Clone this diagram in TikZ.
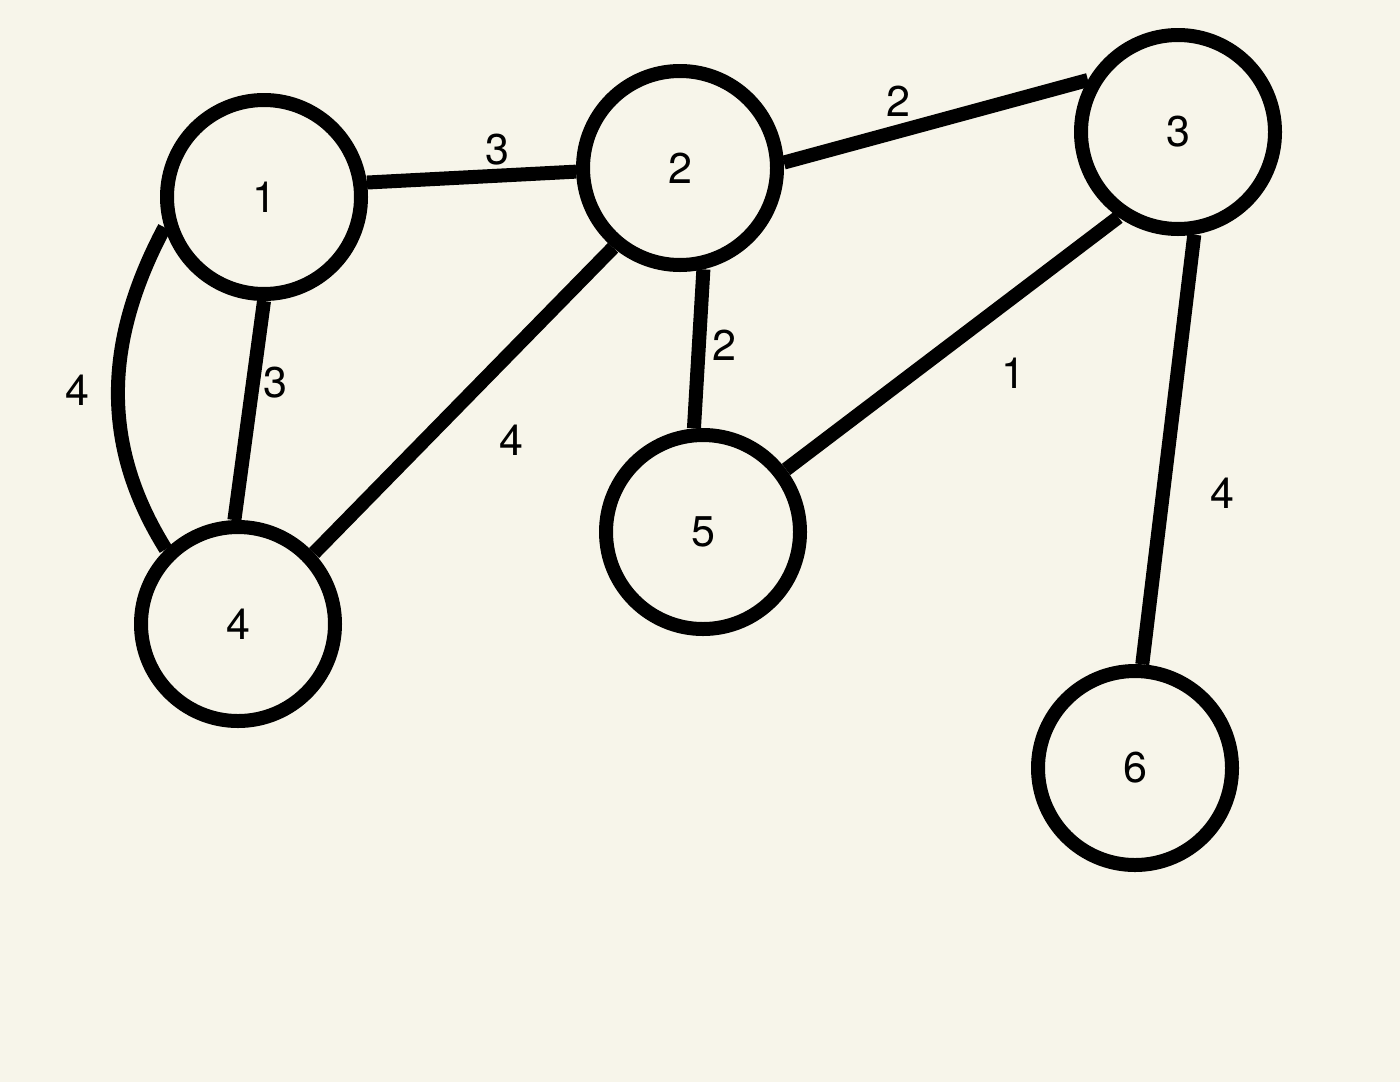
\documentclass[tikz,border=0pt]{standalone}
\usepackage{fontspec}
\setmainfont{TeX Gyre Heros}
\definecolor{bgc}{HTML}{F7F5EA}
\begin{document}
\begin{tikzpicture}[x=0.5pt,y=-0.5pt,
  vtx/.style={circle,draw=black,line width=7pt,minimum size=97pt,inner sep=0pt,font=\fontsize{21.5}{26}\selectfont},
  edge/.style={line width=7pt,draw=black},
  wlab/.style={font=\fontsize{21.5}{26}\selectfont,inner sep=0pt}]
\fill[bgc] (0,0) rectangle (1400,1082);
\useasboundingbox (0,0) rectangle (1400,1082);
\node[vtx] (n1) at (264,197) {1};
\node[vtx] (n2) at (680,168) {2};
\node[vtx] (n3) at (1178,132) {3};
\node[vtx] (n4) at (238,624) {4};
\node[vtx] (n5) at (703,532) {5};
\node[vtx] (n6) at (1135,768) {6};
\draw[edge] (n1.8) -- (n2.182);
\draw[edge] (n2.3) -- (n3.150);
\draw[edge] (n1.270) -- (n4.92);
\draw[edge] (n1.197) to[out=242,in=122] (n4.134);
\draw[edge] (n2.230) -- (n4.43);
\draw[edge] (n2.283) -- (n5.95);
\draw[edge] (n3.235) -- (n5.37);
\draw[edge] (n3.279) -- (n6.86);
\node[wlab] (w12) at (497,150) {3};
\node[wlab] (w23) at (898,101) {2};
\node[wlab] (w14c) at (77,390) {4};
\node[wlab] (w14) at (275,383) {3};
\node[wlab] (w24) at (511,440) {4};
\node[wlab] (w25) at (724,345) {2};
\node[wlab] (w35) at (1013,373) {1};
\node[wlab] (w36) at (1222,493) {4};
\end{tikzpicture}
\end{document}
